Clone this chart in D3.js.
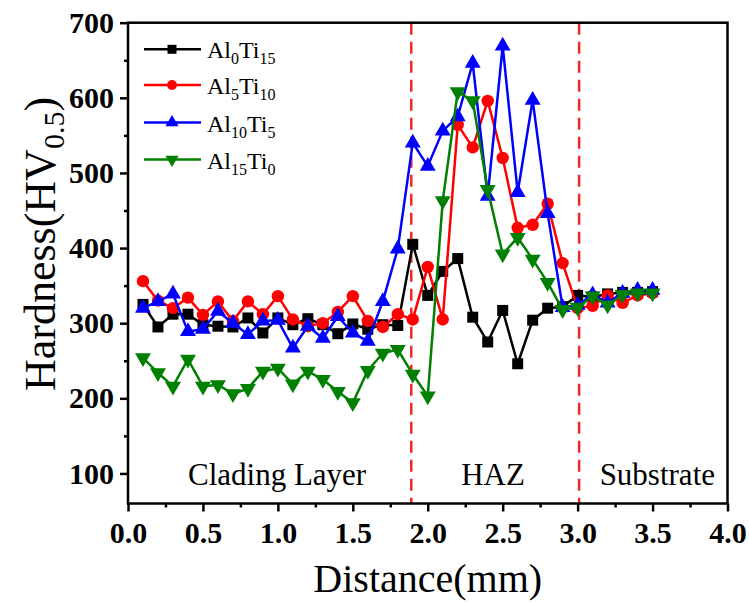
<!DOCTYPE html>
<html><head><meta charset="utf-8">
<script src="https://cdn.jsdelivr.net/npm/d3@7"></script>
<style>body{margin:0;background:#fff;} svg{display:block;}</style>
</head><body>
<svg id="chart" width="749" height="603"></svg>
<script>
const distance = [0.1,0.2,0.3,0.4,0.5,0.6,0.7,0.8,0.9,1.0,1.1,1.2,1.3,1.4,1.5,1.6,1.7,1.8,1.9,2.0,2.1,2.2,2.3,2.4,2.5,2.6,2.7,2.8,2.9,3.0,3.1,3.2,3.3,3.4,3.5];
const al0ti15 = [325,295,312,312,298,296,295,307,287,307,298,306,298,286,299,292,298,297,405,337,369,386,308,275,317,246,304,320,322,337,335,339,341,341,342];
const al5ti10 = [356,330,320,334,311,329,303,329,312,336,305,296,300,315,336,303,295,312,305,375,305,564,534,596,520,427,431,459,380,320,323,337,327,337,340];
const al10ti5 = [320,329,339,289,292,316,300,285,303,304,267,296,280,309,287,276,329,399,540,509,556,575,646,469,669,474,597,446,321,324,338,327,340,344,344];
const al15ti0 = [254,234,216,252,216,218,206,213,236,240,219,236,225,209,194,237,260,265,232,203,463,608,596,478,392,414,385,354,318,321,336,324,338,340,340];
const seriesNames = [["Al","0","Ti","15"],["Al","5","Ti","10"],["Al","10","Ti","5"],["Al","15","Ti","0"]];
const seriesColors = ["#000000","#ff0000","#0000ff","#008000"];
const seriesMarkers = ["square","circle","triangle","triangleDown"];
const xTicks = [0,0.5,1,1.5,2,2.5,3,3.5,4];
const yTicks = [100,200,300,400,500,600,700];
const boundaries = [1.89,3.01];
const regionLabels = ["Clading Layer","HAZ","Substrate"];

const svg = d3.select("#chart");
const L=128, R=727.5, T=22.7, B=503.5;
const x = d3.scaleLinear().domain([0,4]).range([L,R]);
const y = d3.scaleLinear().domain([60,700]).range([B,T]);
const font = "'Liberation Serif','Times New Roman',serif";

// axes
const xAxis = svg.append("g").attr("transform",`translate(0,${B})`)
  .call(d3.axisBottom(x).tickValues(xTicks).tickSize(8).tickPadding(10).tickFormat(d3.format(".1f")));
const xMinor = svg.append("g").attr("transform",`translate(0,${B})`)
  .call(d3.axisBottom(x).tickValues(d3.range(0.25,4,0.5)).tickSize(4).tickFormat(""));
const yAxis = svg.append("g").attr("transform",`translate(${L},0)`)
  .call(d3.axisLeft(y).tickValues(yTicks).tickSize(8).tickPadding(6));
const yMinor = svg.append("g").attr("transform",`translate(${L},0)`)
  .call(d3.axisLeft(y).tickValues(d3.range(150,700,100)).tickSize(4).tickFormat(""));
[xAxis,xMinor,yAxis,yMinor].forEach(g=>{
  g.select(".domain").remove();
  g.selectAll("line").attr("stroke","#000").attr("stroke-width",2.5);
  g.selectAll("text").attr("font-family",font).attr("font-weight","bold").attr("font-size",30).attr("fill","#000");
});

// dashed boundaries
svg.selectAll(".bnd").data(boundaries).enter().append("line")
  .attr("x1",d=>x(d)).attr("x2",d=>x(d)).attr("y1",T).attr("y2",B)
  .attr("stroke","#f02828").attr("stroke-width",2.5).attr("stroke-dasharray","12,7");

// region labels
const regPos = [{x:188,anchor:"start"},{x:493,anchor:"middle"},{x:715,anchor:"end"}];
svg.selectAll(".reg").data(regionLabels).enter().append("text")
  .attr("x",(d,i)=>regPos[i].x).attr("y",485).attr("text-anchor",(d,i)=>regPos[i].anchor)
  .attr("font-family",font).attr("font-size",31).text(d=>d);

// series
const allSeries = [al0ti15,al5ti10,al10ti5,al15ti0];
const line = d3.line().x((d,i)=>x(distance[i])).y(d=>y(d));
function marker(sel, type, color){
  if(type==="square") sel.append("rect").attr("x",-5.5).attr("y",-5.5).attr("width",11).attr("height",11).attr("fill",color);
  else if(type==="circle") sel.append("circle").attr("r",6.2).attr("fill",color);
  else if(type==="triangle") sel.append("path").attr("d",d3.symbol(d3.symbolTriangle,110)()).attr("fill",color);
  else sel.append("path").attr("d",d3.symbol(d3.symbolTriangle,110)()).attr("transform","rotate(180)").attr("fill",color);
}
allSeries.forEach((vals,s)=>{
  const g = svg.append("g");
  g.append("path").datum(vals).attr("d",line).attr("fill","none").attr("stroke",seriesColors[s]).attr("stroke-width",2.5);
  g.selectAll("g.pt").data(vals).enter().append("g").attr("class","pt")
    .attr("transform",(d,i)=>`translate(${x(distance[i])},${y(d)})`)
    .each(function(){ marker(d3.select(this), seriesMarkers[s], seriesColors[s]); });
});

// frame
svg.append("rect").attr("x",L).attr("y",T).attr("width",R-L).attr("height",B-T)
  .attr("fill","none").attr("stroke","#000").attr("stroke-width",2.5);

// legend
const legY = [49.3,85,122.5,159.5];
seriesNames.forEach((nm,s)=>{
  const g = svg.append("g").attr("transform",`translate(0,${legY[s]})`);
  g.append("line").attr("x1",144).attr("x2",201).attr("stroke",seriesColors[s]).attr("stroke-width",2.5);
  const m = g.append("g").attr("transform","translate(172,0)");
  if(seriesMarkers[s]==="square") m.append("rect").attr("x",-4.5).attr("y",-4.5).attr("width",9).attr("height",9).attr("fill",seriesColors[s]);
  else if(seriesMarkers[s]==="circle") m.append("circle").attr("r",5).attr("fill",seriesColors[s]);
  else if(seriesMarkers[s]==="triangle") m.append("path").attr("d",d3.symbol(d3.symbolTriangle,75)()).attr("fill",seriesColors[s]);
  else m.append("path").attr("d",d3.symbol(d3.symbolTriangle,75)()).attr("transform","rotate(180)").attr("fill",seriesColors[s]);
  const t = g.append("text").attr("x",207).attr("y",9).attr("font-family",font).attr("font-size",24);
  t.append("tspan").text(nm[0]);
  t.append("tspan").attr("font-size",16).attr("dy",6).text(nm[1]);
  t.append("tspan").attr("dy",-6).text(nm[2]);
  t.append("tspan").attr("font-size",16).attr("dy",6).text(nm[3]);
});

// axis titles
svg.append("text").attr("x",(L+R)/2).attr("y",592).attr("text-anchor","middle")
  .attr("font-family",font).attr("font-size",40).text("Distance(mm)");
const yt = svg.append("text").attr("transform",`translate(55,244) rotate(-90)`).attr("text-anchor","middle")
  .attr("font-family",font).attr("font-size",44);
yt.append("tspan").text("Hardness(HV");
yt.append("tspan").attr("font-size",30).attr("dy",9).text("0.5");
yt.append("tspan").attr("dy",-9).text(")");
</script>
</body></html>
